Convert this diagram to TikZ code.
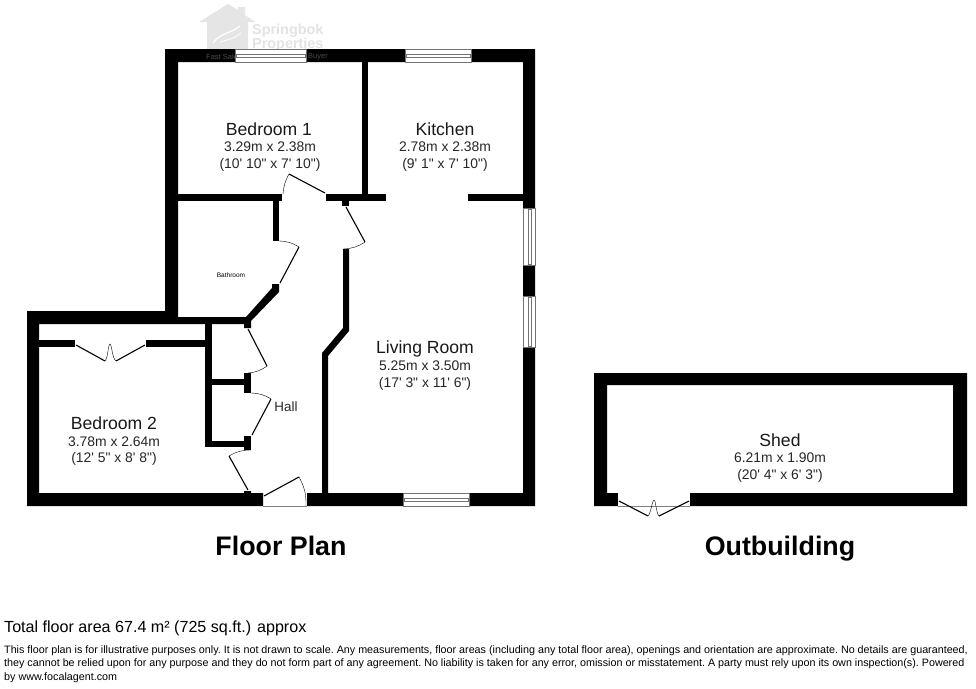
\documentclass[tikz,border=0pt]{standalone}
\usepackage{fontspec}
\setmainfont{Liberation Sans}[Ligatures=TeXOff]
\tikzset{
  wall/.style={fill=black,draw=none},
  doorleaf/.style={line width=1.1pt},
  doorarc/.style={line width=.4pt},
  pane/.style={fill=white,draw=black!55,line width=.5pt},
  rname/.style={anchor=base,font=\fontsize{17.6}{20}\selectfont,text=black!90,inner sep=0pt},
  rsize/.style={anchor=north,font=\fontsize{13.9}{16.5}\selectfont,text=black!85,inner sep=0pt,align=center},
  title/.style={anchor=base,font=\fontsize{26.8}{30}\selectfont\bfseries,inner sep=0pt},
  logo/.style={text=black!11,inner sep=0pt,font=\fontsize{14.4}{13}\selectfont\bfseries,align=left},
  stamp/.style={text=black!70,inner sep=0pt,font=\fontsize{7.5}{9}\selectfont}
}
\begin{document}
\begin{tikzpicture}[x=1pt, y=-1pt]
\useasboundingbox (0,0) rectangle (976,688);

\fill[black!10] (199,22) -- (228,4) -- (238,10) -- (238,7) -- (245,7) -- (245,15) -- (255,22) -- (248,22) -- (248,49) -- (207,49) -- (207,22) -- cycle;
\draw[white,line width=1.2pt] (213,43) .. controls (220,33) and (230,34) .. (240,26);
\draw[white,line width=.8pt] (220,42) .. controls (226,40) and (234,39) .. (241,33);
\node[logo,anchor=north west] (logotext) at (252,23.5) {Springbok\\Properties};

% main walls
\fill[wall] (165,49) -- (535,49) -- (535,506) -- (307,506) -- (307,493) -- (523,493) -- (523,62) -- (178,62) -- (178,317) -- (246,317) -- (272,288) -- (272,284) -- (279,284) -- (279,292) -- (251,321) -- (251,328) -- (244,328) -- (244,324) -- (39,324) -- (39,493) -- (244,493) -- (244,491) -- (251,491) -- (251,493) -- (263,493) -- (263,506) -- (27,506) -- (27,311) -- (165,311) -- cycle;
\fill[wall] (362,62) rectangle (368,194);
\fill[wall] (178,194) rectangle (282,201);
\fill[wall] (326,194) rectangle (386,201);
\fill[wall] (468,194) rectangle (523,201);
\fill[wall] (273,201) rectangle (279,241);
\fill[wall] (342,201) rectangle (349,206);
\fill[wall] (343,249) -- (349,249) -- (349,331) -- (328,356) -- (328,493) -- (322,493) -- (322,353) -- (343,328) -- cycle;

% cupboards
\fill[wall] (39,340) rectangle (75,347);
\fill[wall] (146,340) rectangle (205,347);
\fill[wall] (205,324) rectangle (212,447);
\fill[wall] (212,379) rectangle (245,385);
\fill[wall] (244,373) rectangle (251,393);
\fill[wall] (212,441) rectangle (245,447);
\fill[wall] (244,436) rectangle (251,450);

% shed
\fill[wall,even odd rule] (594,373) rectangle (967,506) (607,385) rectangle (953,493);
\fill[white] (618,493) rectangle (690,507);
\draw[black!50,line width=.5pt] (618,506) -- (690,506);
\draw[black!50,line width=.5pt] (263,506) -- (307,506);

\node[stamp,anchor=west] (stampleft) at (206,57) {Fast Sale};
\node[stamp,anchor=west] (stampright) at (308,57) {Buyer};

% windows
\foreach \xa/\xb/\ya in {235/306/49,405/471/49,403/469/493}{
\draw[pane] (\xa,\ya) rectangle (\xb,\ya+13);
\draw[black!55,line width=.4pt] (\xa+1,\ya+5) rectangle (\xb-1,\ya+8);
}
\foreach \ya/\yb in {208/265,296/347}{
\draw[pane] (523,\ya) rectangle (535,\yb);
\draw[black!55,line width=.4pt] (528,\ya+1) rectangle (531,\yb-1);
}

% doors
\draw[doorleaf] (325,193) -- (289,174);
\draw[doorarc] (289,174) to[bend right=12] (283,194);
\draw[doorleaf] (346,207) -- (365,242);
\draw[doorarc] (365,242) to[bend left=15] (343,249);
\draw[doorleaf] (280,283) -- (299,247);
\draw[doorarc] (299,247) to[bend right=15] (279,241);
\draw[doorleaf] (248,329) -- (267,366);
\draw[doorarc] (267,366) to[bend left=15] (248,373);
\draw[doorleaf] (252,435) -- (271,399);
\draw[doorarc] (271,399) to[bend right=15] (251,393);
\draw[doorleaf] (248,490) -- (229,456);
\draw[doorarc] (229,456) to[bend left=15] (251,450);
\draw[doorleaf] (264,496) -- (299,477);
\draw[doorarc] (299,477) to[bend left=15] (306,506);

% double doors
\draw[doorleaf] (76,345) -- (105,361);
\draw[doorleaf] (145,345) -- (116,361);
\draw[doorarc] (105,361) .. controls (108,358) and (108,345) .. (110,344) .. controls (112,345) and (112,358) .. (116,361);
\draw[doorleaf] (619,501) -- (648,516);
\draw[doorleaf] (689,501) -- (659,516);
\draw[doorarc] (648,516) .. controls (651,513) and (652,501) .. (654,500) .. controls (656,501) and (656,513) .. (659,516);

% labels
\node[rname] (bedroomone) at (269,135) {Bedroom 1};
\node[rsize] (bedroomonesize) at (270,142) {3.29m x 2.38m\\(10' 10" x 7' 10")};
\node[rname] (kitchen) at (445,135) {Kitchen};
\node[rsize] (kitchensize) at (445,142) {2.78m x 2.38m\\(9' 1" x 7' 10")};
\node[inner sep=0pt,font=\fontsize{6.5}{8}\selectfont] (bathroom) at (231,275.5) {Bathroom};
\node[rname] (livingroom) at (425,353) {Living Room};
\node[rsize] (livingroomsize) at (425,361) {5.25m x 3.50m\\(17' 3" x 11' 6")};
\node[rname] (bedroomtwo) at (114,429) {Bedroom 2};
\node[rsize] (bedroomtwosize) at (114,436.5) {3.78m x 2.64m\\(12' 5" x 8' 8")};
\node[inner sep=0pt,text=black!85,font=\fontsize{13.4}{14}\selectfont] (hall) at (286,407) {Hall};
\node[rname] (shed) at (780,446) {Shed};
\node[rsize] (shedsize) at (780,453) {6.21m x 1.90m\\(20' 4" x 6' 3")};
\node[title] (floorplan) at (281,555) {Floor Plan};
\node[title] (outbuilding) at (780,555) {Outbuilding};
\node[anchor=base west,inner sep=0pt,font=\fontsize{16.1}{18}\selectfont] (totalarea) at (4,632.5) {Total floor area 67.4 m² (725 sq.ft.) approx};
\node[anchor=north west,inner sep=0pt,align=left,font=\fontsize{10.75}{13.7}\selectfont\frenchspacing] (disclaimer) at (4,645) {This floor plan is for illustrative purposes only. It is not drawn to scale. Any measurements, floor areas (including any total floor area), openings and orientation are approximate. No details are guaranteed,\\they cannot be relied upon for any purpose and they do not form part of any agreement. No liability is taken for any error, omission or misstatement. A party must rely upon its own inspection(s). Powered\\by www.focalagent.com};
\end{tikzpicture}
\end{document}
